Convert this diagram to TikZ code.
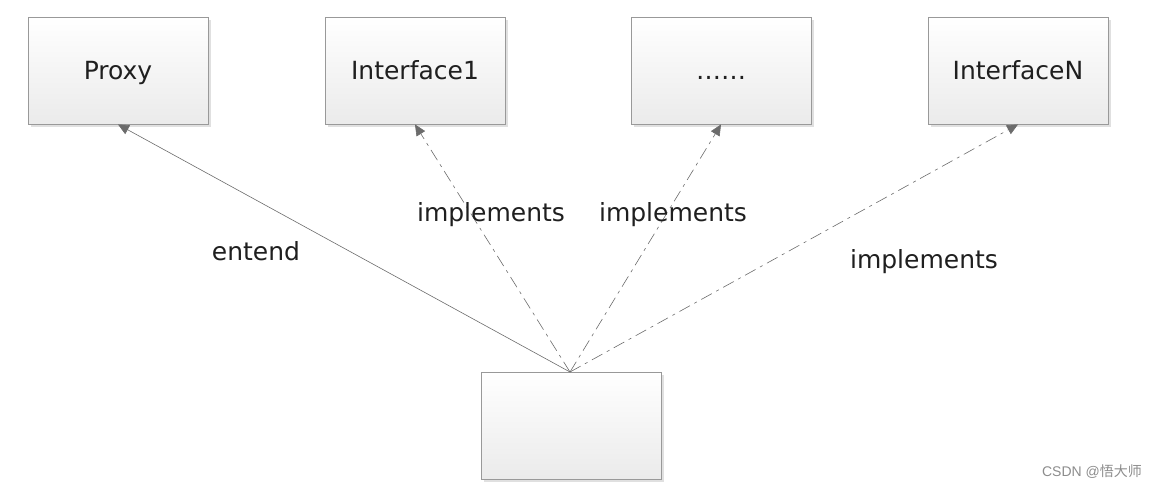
\documentclass[tikz,border=0pt]{standalone}
\usepackage{fontspec}
\setmainfont{DejaVu Sans}
\newfontfamily\cjk{Noto Sans CJK SC}
\usetikzlibrary{arrows.meta,shadows}
\newcommand{\boxtext}[1]{\raisebox{-9pt}[0pt][0pt]{#1}}
\begin{document}
\begin{tikzpicture}[x=1pt,y=-1pt,
  cls/.style={draw=black!40,line width=0.9pt,top color=white,bottom color=black!8,
    minimum width=180pt,minimum height=107pt,inner sep=0pt,font=\fontsize{25}{28}\selectfont,text=black!88,
    drop shadow={shadow xshift=3pt,shadow yshift=-3pt,fill=black!12,opacity=1}},
  rel/.style={draw=black!50,line width=0.6pt,-{Triangle[length=11pt,width=10pt]},color=black!58},
  impl/.style={rel,dash pattern=on 12pt off 5pt on 3pt off 5pt},
  lbl/.style={font=\fontsize{25}{28}\selectfont,text=black!88,inner sep=0pt}]
\useasboundingbox (0,0) rectangle (1157,489);
\node[cls] (proxy) at (118,70.5) {\boxtext{Proxy}};
\node[cls] (i1) at (415,70.5) {\boxtext{Interface1}};
\node[cls] (dots) at (721,70.5) {\boxtext{\ldots\ldots}};
\node[cls] (iN) at (1018,70.5) {\boxtext{InterfaceN}};
\node[cls] (impl) at (571,425.5) {};
\coordinate (apex) at (570,372);
\draw[rel] (apex) -- (proxy.south);
\draw[impl] (apex) -- (i1.south);
\draw[impl] (apex) -- (dots.south);
\draw[impl] (apex) -- (iN.south);
\node[lbl] (l0) at (256,251) {entend};
\node[lbl] (l1) at (491,215) {implements};
\node[lbl] (l2) at (673,215) {implements};
\node[lbl] (l3) at (924,262) {implements};
\node[text=black!45,font=\fontsize{14}{16}\selectfont,inner sep=0pt] (wm) at (1092,472) {\fontspec{Liberation Sans}CSDN @\cjk 悟大师};
\end{tikzpicture}
\end{document}
